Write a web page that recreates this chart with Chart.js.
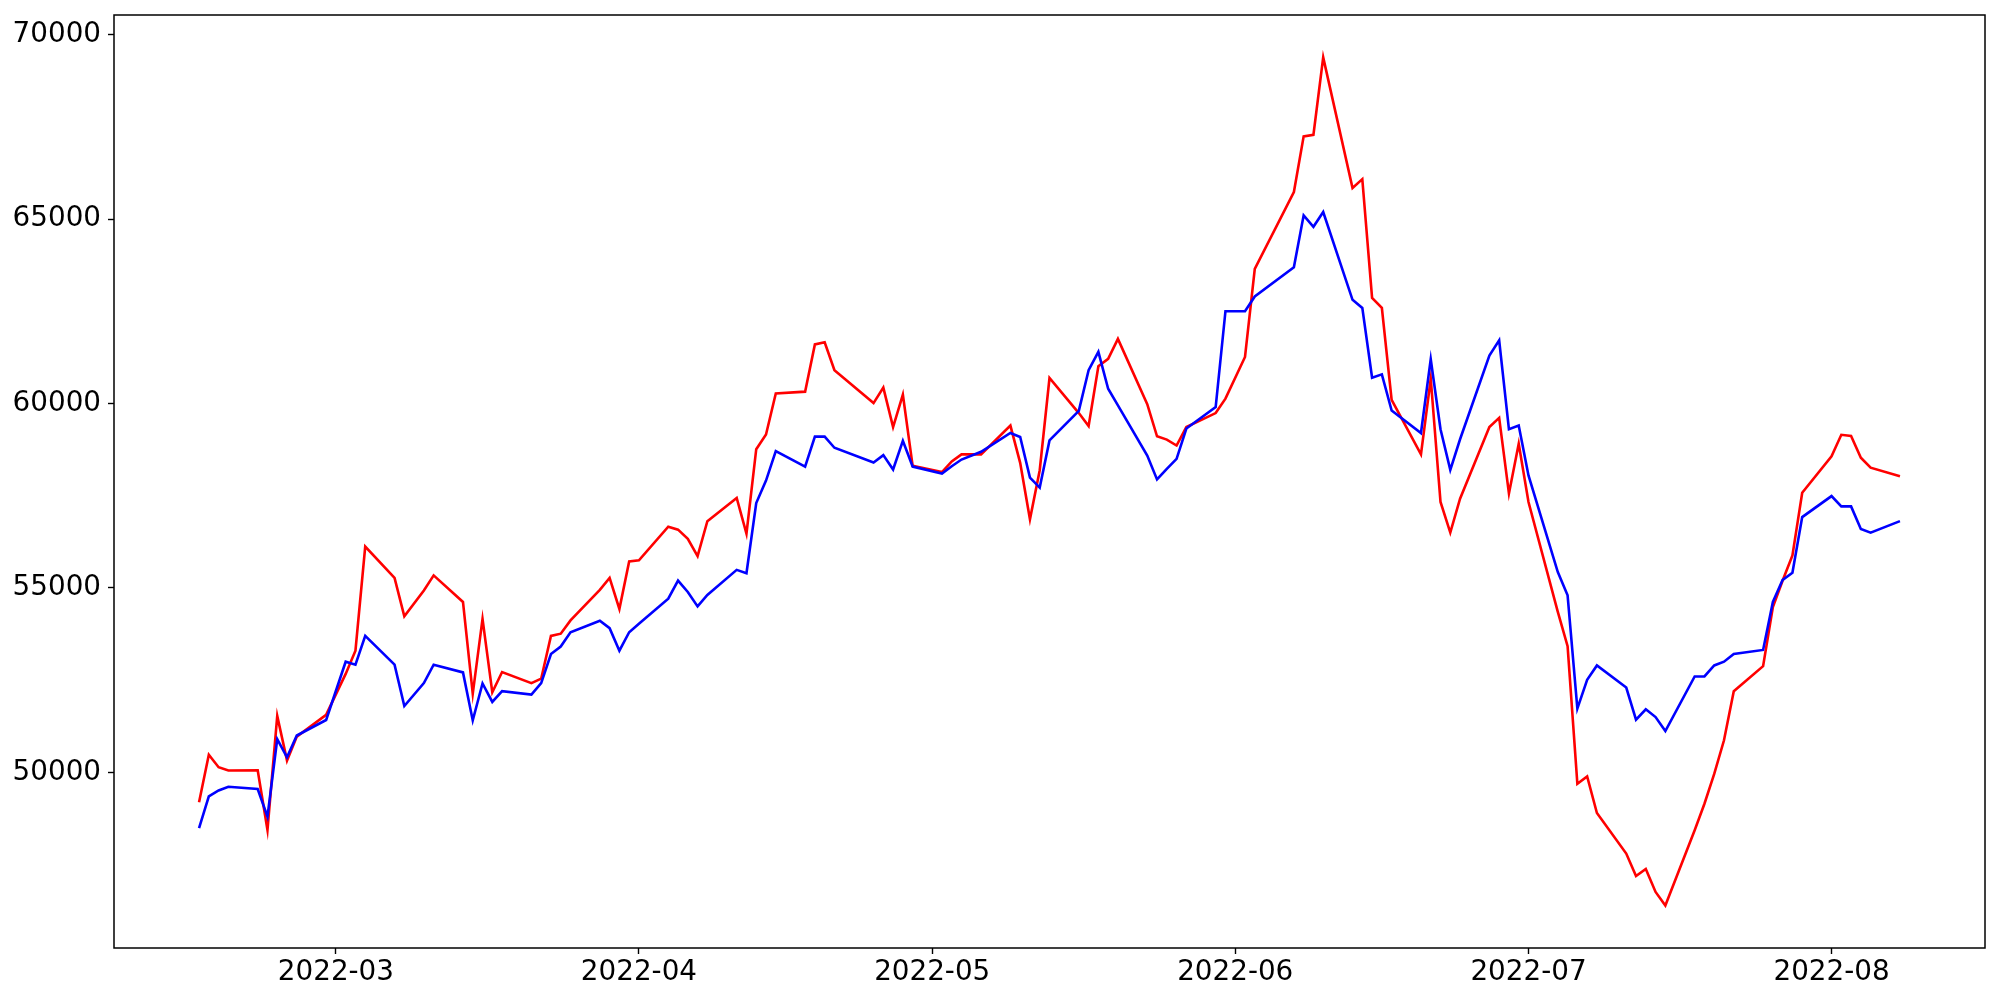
<!DOCTYPE html>
<html>
<head>
<meta charset="utf-8">
<script src="https://cdn.jsdelivr.net/npm/chart.js@4/dist/chart.umd.min.js"></script>
<style>
  html, body { margin: 0; padding: 0; background: #ffffff; }
  #wrap { width: 2000px; height: 1000px; }
</style>
</head>
<body>
<div id="wrap"><canvas id="c" width="2000" height="1000"></canvas></div>
<script>
// ---- data ----
const dates = [
  '2022-02-15','2022-02-16','2022-02-17','2022-02-18','2022-02-21','2022-02-22','2022-02-23','2022-02-24','2022-02-25','2022-02-28',
  '2022-03-02','2022-03-03','2022-03-04','2022-03-07','2022-03-08','2022-03-10','2022-03-11','2022-03-14','2022-03-15','2022-03-16',
  '2022-03-17','2022-03-18','2022-03-21','2022-03-22','2022-03-23','2022-03-24','2022-03-25','2022-03-28','2022-03-29','2022-03-30',
  '2022-03-31','2022-04-01','2022-04-04','2022-04-05','2022-04-06','2022-04-07','2022-04-08','2022-04-11','2022-04-12','2022-04-13',
  '2022-04-14','2022-04-15','2022-04-18','2022-04-19','2022-04-20','2022-04-21','2022-04-25','2022-04-26','2022-04-27','2022-04-28',
  '2022-04-29','2022-05-02','2022-05-03','2022-05-04','2022-05-06','2022-05-09','2022-05-10','2022-05-11','2022-05-12','2022-05-13',
  '2022-05-16','2022-05-17','2022-05-18','2022-05-19','2022-05-20','2022-05-23','2022-05-24','2022-05-25','2022-05-26','2022-05-27',
  '2022-05-30','2022-05-31','2022-06-02','2022-06-03','2022-06-07','2022-06-08','2022-06-09','2022-06-10','2022-06-13','2022-06-14',
  '2022-06-15','2022-06-16','2022-06-17','2022-06-20','2022-06-21','2022-06-22','2022-06-23','2022-06-24','2022-06-27','2022-06-28',
  '2022-06-29','2022-06-30','2022-07-01','2022-07-04','2022-07-05','2022-07-06','2022-07-07','2022-07-08','2022-07-11','2022-07-12',
  '2022-07-13','2022-07-14','2022-07-15','2022-07-18','2022-07-19','2022-07-20','2022-07-21','2022-07-22','2022-07-25','2022-07-26',
  '2022-07-27','2022-07-28','2022-07-29','2022-08-01','2022-08-02','2022-08-03','2022-08-04','2022-08-05','2022-08-08'
];

const redValues = [
  49190,50480,50140,50050,50060,48440,51530,50320,50970,51560,
  52670,53300,56120,55270,54230,54930,55340,54620,52130,54160,
  52170,52720,52420,52540,53700,53760,54120,54950,55270,54430,
  55720,55750,56660,56580,56330,55860,56810,57440,56470,58760,
  59160,60270,60320,61600,61660,60900,60010,60430,59360,60240,
  58310,58140,58430,58620,58620,59400,58390,56860,58190,60690,
  59740,59390,61010,61210,61750,59980,59110,59020,58860,59360,
  59740,60130,61260,63650,65730,67240,67280,69380,65840,66080,
  62860,62590,60100,58620,60670,57330,56500,57420,59360,59610,
  57560,58910,57330,54350,53420,49690,49890,48900,47800,47190,
  47380,46760,46390,48430,49150,49960,50870,52200,52880,54480,
  55200,55880,57580,58570,59150,59120,58530,58260,58030
];

const blueValues = [
  48490,49350,49510,49610,49550,48800,50900,50410,51000,51420,
  53000,52920,53700,52920,51800,52420,52920,52710,51410,52410,
  51910,52200,52110,52420,53210,53410,53800,54110,53910,53300,
  53800,54030,54710,55200,54890,54500,54810,55490,55400,57300,
  57910,58710,58290,59100,59100,58800,58400,58600,58210,58990,
  58290,58100,58300,58480,58690,59200,59090,57990,57720,59000,
  59800,60900,61400,60400,59950,58590,57940,58230,58500,59320,
  59900,62500,62500,62900,63690,65100,64790,65190,62810,62590,
  60700,60790,59810,59200,61200,59300,58200,59030,61300,61710,
  59300,59400,58050,55430,54800,51730,52510,52900,52300,51430,
  51710,51500,51120,52600,52600,52900,53000,53210,53320,54620,
  55220,55410,56920,57490,57210,57210,56600,56500,56810
];

const xTickLabels = ['2022-03','2022-04','2022-05','2022-06','2022-07','2022-08'];
const yTickValues = [50000, 55000, 60000, 65000, 70000];

// ---- helpers ----
function toDay(s) {
  const p = s.split('-').map(Number);
  return Date.UTC(p[0], p[1] - 1, p[2] || 1) / 86400000;
}
function dayLabel(v) {
  const d = new Date(Math.round(v) * 86400000);
  const m = String(d.getUTCMonth() + 1).padStart(2, '0');
  return d.getUTCFullYear() + '-' + m;
}

const xs = dates.map(toDay);
const redPts = xs.map((x, i) => ({ x: x, y: redValues[i] }));
const bluePts = xs.map((x, i) => ({ x: x, y: blueValues[i] }));

const xMinD = Math.min(...xs), xMaxD = Math.max(...xs);
const xPad = (xMaxD - xMinD) * 0.05;
const allY = redValues.concat(blueValues);
const yMinD = Math.min(...allY), yMaxD = Math.max(...allY);
const yPad = (yMaxD - yMinD) * 0.05;

const FONT = { family: "'DejaVu Sans', sans-serif", size: 27.8 };

const framePlugin = {
  id: 'frame',
  afterDatasetsDraw(chart) {
    const a = chart.chartArea, ctx = chart.ctx;
    ctx.save();
    ctx.strokeStyle = '#000';
    ctx.lineWidth = 1.5;
    ctx.strokeRect(a.left, a.top, a.right - a.left, a.bottom - a.top);
    ctx.restore();
  }
};

new Chart(document.getElementById('c'), {
  type: 'line',
  data: {
    datasets: [
      { data: redPts, borderColor: '#ff0000', borderWidth: 2.6, pointRadius: 0, tension: 0, fill: false, order: 1 },
      { data: bluePts, borderColor: '#0000ff', borderWidth: 2.6, pointRadius: 0, tension: 0, fill: false, order: 0 }
    ]
  },
  options: {
    responsive: false,
    devicePixelRatio: 1,
    animation: false,
    layout: { autoPadding: false, padding: { left: 0, top: 15, right: 15, bottom: 0 } },
    plugins: { legend: { display: false }, tooltip: { enabled: false } },
    scales: {
      x: {
        type: 'linear',
        min: xMinD - xPad,
        max: xMaxD + xPad,
        border: { display: false },
        grid: { display: true, drawOnChartArea: false, drawTicks: true, tickLength: 6, tickColor: '#000', tickWidth: 1.4 },
        ticks: { color: '#000', font: FONT, padding: 2, maxRotation: 0, autoSkip: false, callback: (v) => dayLabel(v) },
        afterBuildTicks: (s) => { s.ticks = xTickLabels.map(l => ({ value: toDay(l + '-01') })); },
        afterFit: (s) => { s.height = 52; s.paddingLeft = 0; s.paddingRight = 0; }
      },
      y: {
        type: 'linear',
        min: yMinD - yPad,
        max: yMaxD + yPad,
        border: { display: false },
        grid: { display: true, drawOnChartArea: false, drawTicks: true, tickLength: 6, tickColor: '#000', tickWidth: 1.4 },
        ticks: { color: '#000', font: FONT, padding: 7, autoSkip: false, callback: (v) => String(v) },
        afterBuildTicks: (s) => { s.ticks = yTickValues.map(v => ({ value: v })); },
        afterFit: (s) => { s.width = 114; s.paddingTop = 0; s.paddingBottom = 0; }
      }
    }
  },
  plugins: [framePlugin]
});
</script>
</body>
</html>
